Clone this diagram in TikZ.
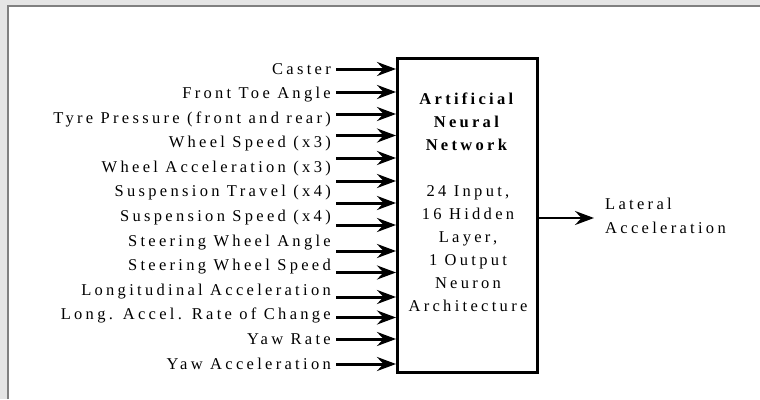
\documentclass[tikz,border=0pt]{standalone}
\usepackage{fontspec}
\setmainfont{Liberation Serif}[LetterSpace=20]
\usetikzlibrary{arrows.meta,positioning}

\begin{document}
\begin{tikzpicture}[x=1pt,y=-1pt,
	lbl/.style={anchor=east,inner sep=0pt,text height=11pt,text depth=1pt,font=\fontsize{16.5}{17}\selectfont},
	inarrow/.style={line width=3pt,-{Stealth[length=19pt,width=14pt,inset=6.5pt]}},
	outarrow/.style={line width=2.4pt,-{Stealth[length=19pt,width=14pt,inset=6.5pt]}}
	]

	\useasboundingbox (0,0) rectangle (760,399);
	\fill[gray!20] (0,0) rectangle (760,399);
	\fill[white] (9,7) rectangle (760,399);
	\draw[gray,line width=2pt] (8,399) -- (8,6) -- (760,6);

	\node[draw,line width=3pt,inner sep=0pt,minimum width=140pt,minimum height=314pt] (ann) at (467.5,215.5) {};
	\node[align=center,inner sep=0pt,font=\fontsize{16.5}{23}\selectfont] (anntext) at (468,202)
		{\textbf{Artificial}\\\textbf{Neural}\\\textbf{Network}\\[23pt]24 Input,\\16 Hidden\\Layer,\\1 Output\\Neuron\\Architecture};

	\node[lbl] (caster) at (331,69) {Caster};
	\node[lbl] (toe) at (331,93.6) {Front Toe Angle};
	\node[lbl] (tyre) at (331,118.2) {Tyre Pressure (front and rear)};
	\node[lbl] (wspeed) at (331,142.7) {Wheel Speed (x3)};
	\node[lbl] (waccel) at (331,167.3) {Wheel Acceleration (x3)};
	\node[lbl] (stravel) at (331,191.9) {Suspension Travel (x4)};
	\node[lbl] (sspeed) at (331,216.5) {Suspension Speed (x4)};
	\node[lbl] (swangle) at (331,241.1) {Steering Wheel Angle};
	\node[lbl] (swspeed) at (331,265.6) {Steering Wheel Speed};
	\node[lbl] (laccel) at (331,290.2) {Longitudinal Acceleration};
	\node[lbl] (lrate) at (331,314.8) {Long. Accel. Rate of Change};
	\node[lbl] (yrate) at (331,339.4) {Yaw Rate};
	\node[lbl] (yaccel) at (331,364) {Yaw Acceleration};

	\coordinate (p1) at (336,69);
	\coordinate (p2) at (336,92);
	\coordinate (p3) at (336,114);
	\coordinate (p4) at (336,135.5);
	\coordinate (p5) at (336,158);
	\coordinate (p6) at (336,181);
	\coordinate (p7) at (336,203);
	\coordinate (p8) at (336,225);
	\coordinate (p9) at (336,251);
	\coordinate (p10) at (336,272.5);
	\coordinate (p11) at (336,297);
	\coordinate (p12) at (336,317.5);
	\coordinate (p13) at (336,339);
	\coordinate (p14) at (336,364);

	\draw[inarrow] (p1) -- (p1 -| ann.west);
	\draw[inarrow] (p2) -- (p2 -| ann.west);
	\draw[inarrow] (p3) -- (p3 -| ann.west);
	\draw[inarrow] (p4) -- (p4 -| ann.west);
	\draw[inarrow] (p5) -- (p5 -| ann.west);
	\draw[inarrow] (p6) -- (p6 -| ann.west);
	\draw[inarrow] (p7) -- (p7 -| ann.west);
	\draw[inarrow] (p8) -- (p8 -| ann.west);
	\draw[inarrow] (p9) -- (p9 -| ann.west);
	\draw[inarrow] (p10) -- (p10 -| ann.west);
	\draw[inarrow] (p11) -- (p11 -| ann.west);
	\draw[inarrow] (p12) -- (p12 -| ann.west);
	\draw[inarrow] (p13) -- (p13 -| ann.west);
	\draw[inarrow] (p14) -- (p14 -| ann.west);

	\node[align=left,anchor=west,inner sep=0pt,font=\fontsize{16.5}{24}\selectfont] (lat) at (605,216) {Lateral\\Acceleration};
	\coordinate (o1) at (594,218);
	\draw[outarrow] (ann.east |- o1) -- (o1);

\end{tikzpicture}
\end{document}
